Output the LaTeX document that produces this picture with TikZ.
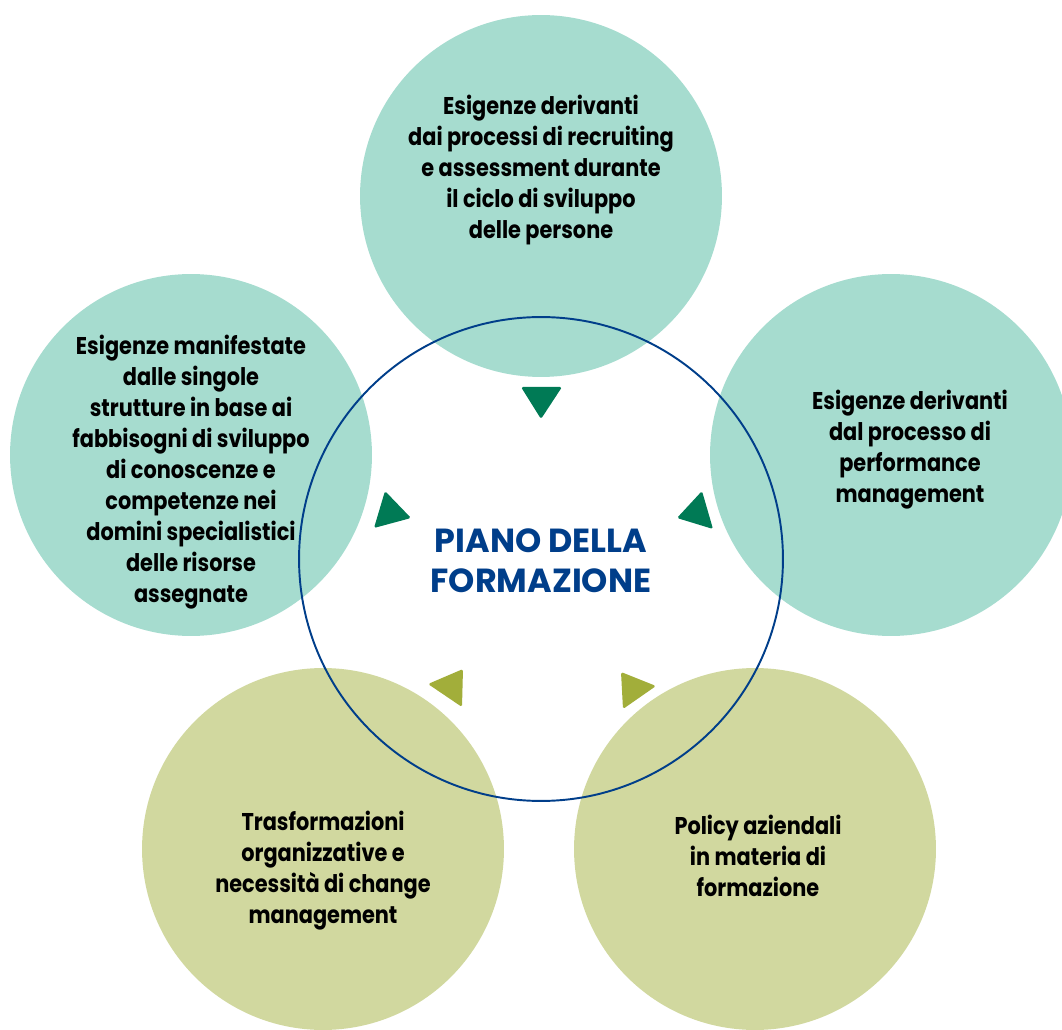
\documentclass[tikz,border=0pt]{standalone}
\usepackage{fontspec}
\setmainfont{Poppins}[FakeStretch=0.86]
\newfontfamily\titlefont{Poppins}
\usetikzlibrary{positioning}
\definecolor{tealc}{HTML}{A6DCCF}
\definecolor{olivec}{HTML}{D1D89F}
\definecolor{darkg}{HTML}{007A55}
\definecolor{oliveg}{HTML}{A2AE3A}
\definecolor{navy}{HTML}{003E8A}

\begin{document}
\begin{tikzpicture}[x=0.02cm, y=-0.02cm, font=\bfseries\fontsize{13.8}{17.6}\selectfont,
  need/.style={circle, minimum size=7.24cm, inner sep=0pt},
  txt/.style={align=center, inner sep=0pt},
  tri/.style={rounded corners=1pt}]
  \useasboundingbox (0,0) rectangle (1062,1030);
  % outer circles
  \node[need, fill=tealc] (rec) at (541,196) {};
  \node[need, fill=tealc] (dom) at (191,455) {};
  \node[need, fill=tealc] (perf) at (891,455) {};
  \node[need, fill=olivec] (chg) at (323,849) {};
  \node[need, fill=olivec] (pol) at (755,849) {};
  % centre
  \node[circle, draw=navy, line width=1.1pt, minimum size=9.68cm, inner sep=0pt] (piano) at (541,559) {};
  \node[txt, text=navy, font=\titlefont\bfseries\fontsize{19}{22.7}\selectfont] (title) at (541,561) {PIANO DELLA\\FORMAZIONE};
  % labels
  \node[txt] (trec) at (541,170) {Esigenze derivanti\\dai processi di recruiting\\e assessment durante\\il ciclo di sviluppo\\delle persone};
  \node[txt] (tdom) at (191,472) {Esigenze manifestate\\dalle singole\\strutture in base ai\\fabbisogni di sviluppo\\di conoscenze e\\competenze nei\\domini specialistici\\delle risorse\\assegnate};
  \node[txt] (tperf) at (910,450) {Esigenze derivanti\\dal processo di\\performance\\management};
  \node[txt] (tchg) at (323,871) {Trasformazioni\\organizzative e\\necessità di change\\management};
  \node[txt] (tpol) at (758,856) {Policy aziendali\\in materia di\\formazione};
  % pointers
  \fill[darkg, tri] (521,387) -- (562,387) -- (541,419) -- cycle;
  \fill[darkg, tri] (385,491) -- (411,518) -- (374,528) -- cycle;
  \fill[darkg, tri] (702,491) -- (677,518) -- (713,529) -- cycle;
  \fill[oliveg, tri] (463,669) -- (428,684) -- (462,707) -- cycle;
  \fill[oliveg, tri] (621,672) -- (656,686) -- (623,709) -- cycle;
\end{tikzpicture}
\end{document}
